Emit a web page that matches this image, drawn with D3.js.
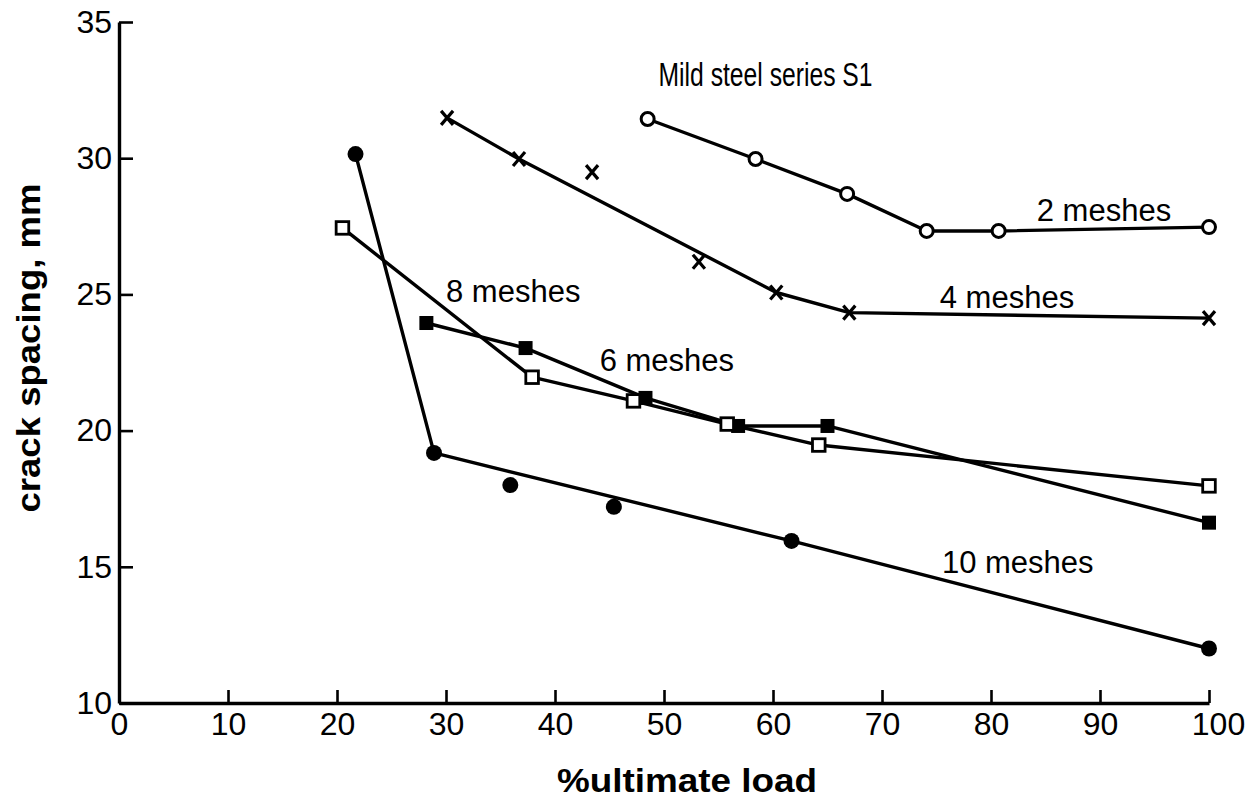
<!DOCTYPE html>
<html>
<head>
<meta charset="utf-8">
<script src="https://cdn.jsdelivr.net/npm/d3@7"></script>
<style>
  html, body { margin: 0; padding: 0; background: #fff; }
  svg { display: block; }
  text { font-family: "Liberation Sans", Arial, sans-serif; fill: #000; }
</style>
</head>
<body>
<svg id="chart" width="1260" height="805"></svg>
<script>
// Crack spacing (mm) against percentage of ultimate load, mild steel series S1
const xTicks = [0, 10, 20, 30, 40, 50, 60, 70, 80, 90, 100];
const yTicks = [10, 15, 20, 25, 30, 35];

const meshNames = ["2 meshes", "4 meshes", "6 meshes", "8 meshes", "10 meshes"];

const load2 = [48.5, 58.4, 66.8, 74.1, 80.7, 100];
const spacing2 = [31.44, 29.97, 28.69, 27.33, 27.33, 27.47];
const joined2 = [1, 1, 1, 1, 1, 1];

const load4 = [30.1, 36.7, 43.4, 53.2, 60.3, 67.0, 100];
const spacing4 = [31.48, 29.97, 29.49, 26.2, 25.07, 24.33, 24.13];
const joined4 = [1, 1, 0, 0, 1, 1, 1];

const load6 = [28.2, 37.3, 48.3, 56.8, 65.0, 100];
const spacing6 = [23.95, 23.03, 21.2, 20.17, 20.17, 16.62];
const joined6 = [1, 1, 1, 1, 1, 1];

const load8 = [20.5, 37.9, 47.2, 55.8, 64.2, 100];
const spacing8 = [27.44, 21.96, 21.09, 20.24, 19.47, 17.97];
const joined8 = [1, 1, 1, 1, 1, 1];

const load10 = [21.7, 28.9, 35.9, 45.4, 61.7, 100];
const spacing10 = [30.15, 19.18, 18.0, 17.2, 15.95, 12.0];
const joined10 = [1, 1, 0, 0, 1, 1];

const svg = d3.select("#chart");

const x = d3.scaleLinear().domain([0, 100]).range([119, 1209]);
const y = d3.scaleLinear().domain([10, 35]).range([703, 22]);

// axes with inward ticks
const xAxis = svg.append("g")
  .attr("transform", `translate(0,${y(10)})`)
  .call(d3.axisBottom(x).tickValues(xTicks).tickFormat(d3.format("d"))
    .tickSize(-13).tickSizeOuter(0).tickPadding(9));

const yAxis = svg.append("g")
  .attr("transform", `translate(${x(0)},0)`)
  .call(d3.axisLeft(y).tickValues(yTicks).tickFormat(d3.format("d"))
    .tickSize(-14).tickSizeOuter(0).tickPadding(7));

[xAxis, yAxis].forEach(g => {
  g.attr("font-family", null).attr("font-size", null);
  g.select(".domain").attr("stroke", "#000").attr("stroke-width", 3.4);
  g.selectAll(".tick line").attr("stroke", "#000").attr("stroke-width", 2.6);
  g.selectAll(".tick text").style("font-size", "32px").attr("fill", "#000");
});
// the last x label sits a little right of its tick
xAxis.selectAll(".tick text").filter(d => d === 100).attr("dx", 9);

// axis titles
svg.append("text")
  .attr("x", 687).attr("y", 792)
  .attr("text-anchor", "middle")
  .attr("textLength", 260).attr("lengthAdjust", "spacingAndGlyphs")
  .style("font-size", "34px").style("font-weight", "bold")
  .text("%ultimate load");

svg.append("text")
  .attr("transform", "translate(40,348) rotate(-90)")
  .attr("text-anchor", "middle")
  .attr("textLength", 329).attr("lengthAdjust", "spacingAndGlyphs")
  .style("font-size", "34px").style("font-weight", "bold")
  .text("crack spacing, mm");

// chart title
svg.append("text")
  .attr("x", x(49.5)).attr("y", y(32.65))
  .attr("textLength", 214).attr("lengthAdjust", "spacingAndGlyphs")
  .style("font-size", "33px")
  .text("Mild steel series S1");

const series = [
  { name: meshNames[0], load: load2, spacing: spacing2, joined: joined2, marker: "openCircle" },
  { name: meshNames[1], load: load4, spacing: spacing4, joined: joined4, marker: "cross" },
  { name: meshNames[2], load: load6, spacing: spacing6, joined: joined6, marker: "filledSquare" },
  { name: meshNames[3], load: load8, spacing: spacing8, joined: joined8, marker: "openSquare" },
  { name: meshNames[4], load: load10, spacing: spacing10, joined: joined10, marker: "filledCircle" }
];

const line = d3.line().x(d => x(d.load)).y(d => y(d.spacing));

series.forEach(s => {
  s.points = s.load.map((v, i) => ({ load: v, spacing: s.spacing[i], joined: s.joined[i] }));
});

// connecting lines first
svg.append("g").selectAll("path")
  .data(series)
  .join("path")
  .attr("d", s => line(s.points.filter(p => p.joined)))
  .attr("fill", "none")
  .attr("stroke", "#000")
  .attr("stroke-width", 3.4)
  .attr("stroke-linejoin", "round")
  .attr("stroke-linecap", "round");

// markers
const markerG = svg.append("g");
series.forEach(s => {
  const g = markerG.append("g");
  const pts = g.selectAll("g").data(s.points).join("g")
    .attr("transform", d => `translate(${x(d.load)},${y(d.spacing)})`);
  if (s.marker === "filledCircle") {
    pts.append("circle").attr("r", 8).attr("fill", "#000");
  } else if (s.marker === "openCircle") {
    pts.append("circle").attr("r", 6.5).attr("fill", "#fff")
      .attr("stroke", "#000").attr("stroke-width", 3);
  } else if (s.marker === "filledSquare") {
    pts.append("rect").attr("x", -7).attr("y", -7).attr("width", 14).attr("height", 14)
      .attr("fill", "#000");
  } else if (s.marker === "openSquare") {
    pts.append("rect").attr("x", -6.3).attr("y", -6.3).attr("width", 12.6).attr("height", 12.6)
      .attr("fill", "#fff").attr("stroke", "#000").attr("stroke-width", 2.8);
  } else if (s.marker === "cross") {
    pts.append("path").attr("d", "M-6,-7L6,7M6,-7L-6,7")
      .attr("stroke", "#000").attr("stroke-width", 3.2).attr("fill", "none");
  }
});

// series labels
const labelSpots = [
  { load: 84.2, spacing: 27.69 },
  { load: 75.3, spacing: 24.5 },
  { load: 44.1, spacing: 22.19 },
  { load: 30.0, spacing: 24.72 },
  { load: 75.5, spacing: 14.77 }
];
svg.append("g").selectAll("text")
  .data(series)
  .join("text")
  .attr("x", (s, i) => x(labelSpots[i].load))
  .attr("y", (s, i) => y(labelSpots[i].spacing))
  .style("font-size", "31px")
  .text(s => s.name);
</script>
</body>
</html>
